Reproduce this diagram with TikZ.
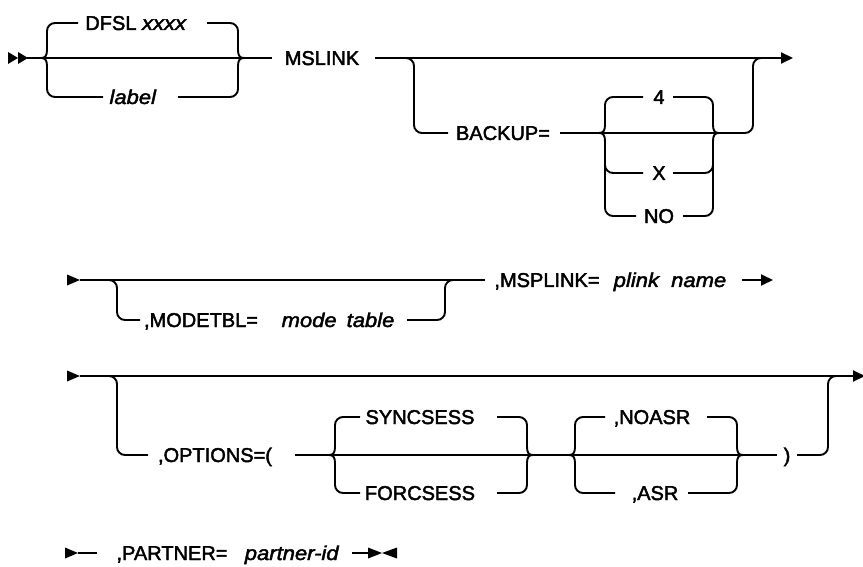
\documentclass[tikz,border=0pt]{standalone}
\usepackage{fontspec}
\setmainfont{Liberation Sans}[FakeBold=2.2,ItalicFeatures={FakeStretch=1.1}]
\usetikzlibrary{arrows.meta}
\newcommand\LBr[6]{% xl, ytop, ymid, ybot, top end, bottom end
  \draw[rr] (#5,#2) -- (#1,#2) -- (#1,{#3-8});
  \draw (#1,{#3-8}) .. controls (#1,{#3-2}) and ({#1-2},#3) .. ({#1-6},#3)
        .. controls ({#1-2},#3) and (#1,{#3+2}) .. (#1,{#3+8});
  \draw[rr] (#1,{#3+8}) -- (#1,#4) -- (#6,#4);}
\newcommand\RBr[6]{% xr, ytop, ymid, ybot, top start, bottom start
  \draw[rr] (#5,#2) -- (#1,#2) -- (#1,{#3-8});
  \draw (#1,{#3-8}) .. controls (#1,{#3-2}) and ({#1+2},#3) .. ({#1+6},#3)
        .. controls ({#1+2},#3) and (#1,{#3+2}) .. (#1,{#3+8});
  \draw[rr] (#1,{#3+8}) -- (#1,#4) -- (#6,#4);}
\begin{document}
\begin{tikzpicture}[x=1pt,y=-1pt,line width=1.9pt,
  rr/.style={rounded corners=8pt},
  lbl/.style={inner sep=0pt,anchor=base,yshift=-7pt,font=\fontsize{20}{24}\selectfont},
  tip/.style={-{Triangle[length=12pt,width=11pt]}}]
\useasboundingbox (0,0) rectangle (863,567);

% ---------- row 1 ----------
\fill (8,52) -- (18,58) -- (8,64) -- cycle;
\fill (18,52) -- (28,58) -- (18,64) -- cycle;
\coordinate (r1s) at (27,58);
\coordinate (r1a) at (272,58);
\draw (r1s) -- (r1a);
\node[lbl] (dfsl) at (136,23) {DFSL \textit{xxxx}};
\node[lbl] (label) at (133,97) {\textit{label}};
\LBr{47}{23}{58}{97}{78}{103}
\draw (207,23) -- (230,23);
\RBr{238}{23}{58}{97}{207}{178}
\node[lbl] (mslink) at (322,58) {MSLINK};
\coordinate (r1b) at (375,58);
\coordinate (r1e) at (793,58);
\draw[tip] (r1b) -- (r1e);
\draw[rr] (405,58) -- (414,58) -- (414,133) -- (448,133);
\node[lbl] (backup) at (503,133) {BACKUP=};
\draw[rr] (560,133) -- (753,133) -- (753,58) -- (762,58);
\node[lbl] (v4) at (659,97) {4};
\node[lbl] (vx) at (659,173) {X};
\node[lbl] (vno) at (659,216) {NO};
\LBr{605}{97}{133}{216}{643}{636}
\RBr{713}{97}{133}{216}{673}{683}
\draw[rr] (605,163) -- (605,173) -- (643,173);
\draw[rr] (673,173) -- (713,173) -- (713,163);

% ---------- row 2 ----------
\fill (67,274.5) -- (80,280) -- (67,285.5) -- cycle;
\coordinate (r2s) at (80,280);
\coordinate (r2e) at (485,280);
\draw (r2s) -- (r2e);
\draw[rr] (108,280) -- (117,280) -- (117,320) -- (140,320);
\node[lbl] (modetbl) at (201,320) {,MODETBL=};
\node[lbl] (modetable) at (338,320) {\textit{mode\hspace{0.5em}table}};
\draw[rr] (407,320) -- (445,320) -- (445,280) -- (454,280);
\node[lbl] (msplink) at (547,280) {,MSPLINK=};
\node[lbl] (plink) at (670,280) {\textit{plink\ \ name}};
\draw[tip] (742,280) -- (773,280);

% ---------- row 3 ----------
\fill (67,370.5) -- (80,376) -- (67,381.5) -- cycle;
\coordinate (r3s) at (80,376);
\coordinate (r3e) at (865,376);
\draw[tip] (r3s) -- (r3e);
\draw[rr] (108,376) -- (117,376) -- (117,455) -- (148,455);
\node[lbl] (options) at (215,455) {,OPTIONS=(};
\draw (295,455) -- (777,455);
\node[lbl] (sync) at (420,417) {SYNCSESS};
\node[lbl] (forc) at (420,493) {FORCSESS};
\LBr{335}{417}{455}{493}{360}{360}
\RBr{527}{417}{455}{493}{497}{497}
\node[lbl] (noasr) at (652,417) {,NOASR};
\node[lbl] (asr) at (655,493) {,ASR};
\LBr{575}{417}{455}{493}{605}{615}
\RBr{737}{417}{455}{493}{707}{688}
\node[lbl] (paren) at (787,455) {)};
\draw[rr] (797,455) -- (828,455) -- (828,376) -- (837,376);

% ---------- row 4 ----------
\fill (65,547.5) -- (78,553) -- (65,558.5) -- cycle;
\draw (78,553) -- (97,553);
\node[lbl] (partner) at (172,553) {,PARTNER=};
\node[lbl] (pid) at (292,553) {\textit{partner-id}};
\draw (352,553) -- (370,553);
\fill (368,547.5) -- (382,553) -- (368,558.5) -- cycle;
\fill (397,547.5) -- (382,553) -- (397,558.5) -- cycle;
\end{tikzpicture}
\end{document}
